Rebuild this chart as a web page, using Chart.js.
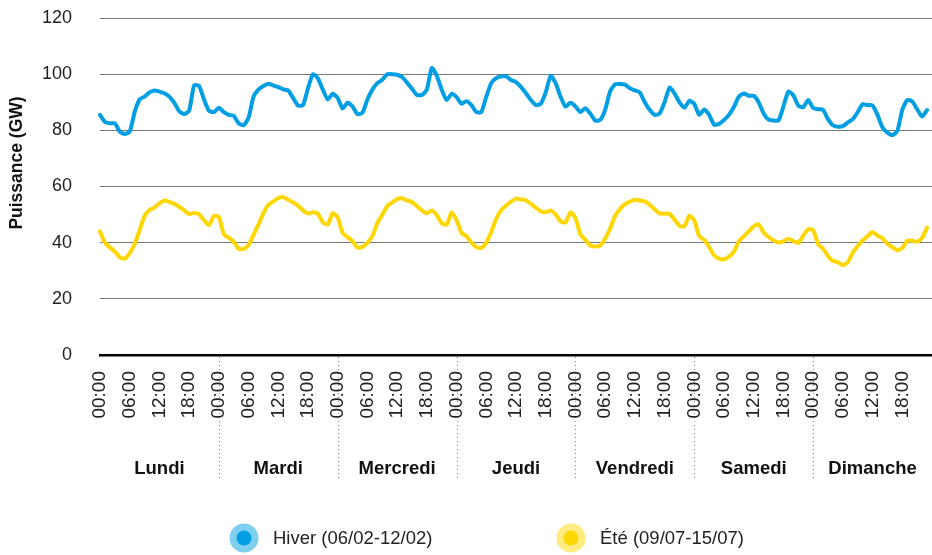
<!DOCTYPE html>
<html><head><meta charset="utf-8">
<script src="https://cdn.jsdelivr.net/npm/chart.js@4.4.1/dist/chart.umd.min.js"></script>
<style>html,body{margin:0;padding:0;background:#fff}#wrap{width:932px;height:555px;position:relative}</style>
</head><body><div id="wrap"><canvas id="c"></canvas></div>
<script>
const days = ['Lundi','Mardi','Mercredi','Jeudi','Vendredi','Samedi','Dimanche'];
const tickHours = ['00:00','06:00','12:00','18:00'];
const yTicks = [0,20,40,60,80,100,120];
const yTitle = 'Puissance (GW)';
const seriesNames = ['Hiver (06/02-12/02)','Été (09/07-15/07)'];
const seriesColors = ['#009FE3','#FFD700'];
const haloColors = ['#7FCFF1','#FFEB7F'];

// hourly values, Monday 00:00 -> Sunday 23:00 (GW)
const winter = [
85.5,83,82.5,82.5,79.5,78.7,79.5,86.5,91,92,93.5,94.2,93.8,93.2,92,89.8,86.8,85.8,87,96,95.8,91,87,86.5,
88,86.5,85.5,85.2,82.5,81.8,84.5,92,94.5,95.8,96.6,96,95.4,94.6,94.2,91.5,88.8,89,95,100,98.5,94.5,91,93,
91.5,87.8,89.8,88.5,85.8,86.3,91,94.5,96.8,98,100,100,99.8,99,97,94.8,92.6,92.6,94.5,102.2,99.5,94.5,90.8,93,
91.8,89.5,90.4,89,86.5,86.5,92,96.8,98.6,99.2,99.2,97.9,97.2,95.5,93.2,90.8,89,89.5,93.5,99.4,96.8,92,88.5,89.8,
88.5,86.5,87.9,86,83.5,83.7,87.3,93.8,96.4,96.5,96.3,95,94.2,93.5,90,87.3,85.5,86,90,95.2,93.2,90,88,90.5,
89.4,85.5,87.4,85.5,82,82.3,83.7,85.5,88.3,92,93.1,92.3,92.3,90,86,83.8,83.5,83.5,88.5,93.8,92.5,88.8,88.2,90.8,
88,87.5,87.3,84,81.8,81.3,81.5,82.8,84,86.5,89.3,89,88.8,85.5,81,79.2,78.3,79.8,87.3,90.8,90.3,87.5,84.9,87.2
];
const summer = [
44,40,38.3,36.8,34.8,34.3,36.3,39.5,44.5,49.5,51.6,52.5,54,55,54.5,53.8,52.8,51.5,50.2,50.6,50.2,48,46.2,49.5,
49.2,43,41.8,40.3,37.8,37.8,39.2,42.8,46.5,50.5,53.5,54.7,55.9,56.2,55.3,54.3,53.2,51.5,50.4,50.8,50.3,47.2,46.5,50.5,
49,43.4,42,40.5,38.2,38.5,40,42.3,47,49.9,53,54.3,55.5,55.8,55,54.5,53,51.5,50.5,51.5,49.8,47,46.4,50.8,
48,43.5,42.3,40,38.4,38.1,40,43.8,48.5,51.5,53.2,54.6,55.7,55.4,55.1,53.8,52.5,51.2,50.8,51.5,50,47.6,47.2,50.8,
48.8,43,41,39,38.6,39,41.5,45,49.5,52,53.7,54.6,55.3,55,54.7,53.5,51.8,50.4,50.3,50.3,48.2,46,45.8,49.6,
47.9,42.3,41,38.5,35.5,34.3,34.1,35,36.8,40.5,42.2,44,45.8,46.5,43.6,42,40.8,40.1,40.5,41.4,40.6,39.9,42.5,44.8,
44.5,39.5,37.8,35.2,33.5,33,32,33,36.5,38.8,40.8,42.3,43.8,42.5,41.6,39.6,38.4,37.3,38.1,40.7,40.7,40.3,41.7,45.4
];

const labels = [];
for (let d = 0; d <= days.length; d++) {
  for (let h = 0; h < 24; h++) {
    if (d === days.length && h > 0) break;
    labels.push(String(h).padStart(2, '0') + ':00');
  }
}

const FONT = '"Liberation Sans", Arial, Helvetica, sans-serif';

const decor = {
  id: 'decor',
  beforeDraw(chart) {
    const {ctx, chartArea, scales: {x}} = chart;
    ctx.save();
    ctx.strokeStyle = '#8a8a8a';
    ctx.lineWidth = 1;
    ctx.setLineDash([1, 3]);
    for (let d = 1; d < days.length; d++) {
      const px = Math.round(x.getPixelForValue(d * 24)) + 0.5;
      ctx.beginPath();
      ctx.moveTo(px, chartArea.bottom + 2);
      ctx.lineTo(px, x.bottom);
      ctx.stroke();
    }
    ctx.restore();
  },
  afterDraw(chart) {
    const {ctx, chartArea, scales: {x}} = chart;
    ctx.save();
    // day labels
    ctx.fillStyle = '#111';
    ctx.font = 'bold 18.5px ' + FONT;
    ctx.textAlign = 'center';
    ctx.textBaseline = 'middle';
    days.forEach((d, i) => {
      ctx.fillText(d, x.getPixelForValue(i * 24 + 12), chartArea.bottom + 114);
    });
    // y title
    ctx.save();
    ctx.translate(17, 163);
    ctx.rotate(-Math.PI / 2);
    ctx.font = 'bold 17.5px ' + FONT;
    ctx.fillStyle = '#111';
    ctx.fillText(yTitle, 0, 0);
    ctx.restore();
    // legend
    const cy = 538;
    const cxs = [chart.width / 2 - 222, chart.width / 2 + 105];
    ctx.font = '18.5px ' + FONT;
    ctx.textAlign = 'left';
    ctx.textBaseline = 'middle';
    seriesNames.forEach((name, i) => {
      const cx = cxs[i];
      ctx.beginPath(); ctx.arc(cx, cy, 14.5, 0, Math.PI * 2); ctx.fillStyle = haloColors[i]; ctx.fill();
      ctx.beginPath(); ctx.arc(cx, cy, 7.5, 0, Math.PI * 2); ctx.fillStyle = seriesColors[i]; ctx.fill();
      ctx.fillStyle = '#222';
      ctx.fillText(name, cx + 29, cy + 1);
    });
    ctx.restore();
  }
};

new Chart(document.getElementById('c'), {
  type: 'line',
  data: {
    labels,
    datasets: [
      {label: seriesNames[0], data: winter, borderColor: seriesColors[0], backgroundColor: seriesColors[0]},
      {label: seriesNames[1], data: summer, borderColor: seriesColors[1], backgroundColor: seriesColors[1]}
    ]
  },
  options: {
    responsive: true,
    maintainAspectRatio: false,
    animation: false,
    layout: {padding: {top: 18, right: 0, bottom: 75, left: 0}},
    plugins: {legend: {display: false}, tooltip: {enabled: false}},
    elements: {
      point: {radius: 0},
      line: {borderWidth: 4, tension: 0.2, borderJoinStyle: 'round', borderCapStyle: 'round'}
    },
    scales: {
      x: {
        type: 'category',
        offset: false,
        grid: {display: false, drawTicks: false},
        border: {display: true, color: '#000', width: 2.5},
        ticks: {
          autoSkip: false, maxRotation: 90, minRotation: 90, padding: 16,
          color: '#222', font: {family: FONT, size: 19},
          callback: (v, i) => (i < labels.length - 1 && tickHours.includes(labels[i])) ? labels[i] : ''
        },
        afterFit: s => { s.height = 125; s.paddingLeft = 0; s.paddingRight = 0; }
      },
      y: {
        min: 0, max: 120,
        afterBuildTicks: s => { s.ticks = yTicks.map(v => ({value: v})); },
        grid: {
          drawTicks: false,
          color: c => (c.tick && c.tick.value === 0) ? 'rgba(0,0,0,0)' : '#777',
          lineWidth: 1
        },
        border: {display: false},
        ticks: {padding: 28, color: '#222', font: {family: FONT, size: 18}},
        afterFit: s => { s.width = 100; s.paddingTop = 0; s.paddingBottom = 0; }
      }
    }
  },
  plugins: [decor]
});
</script>
</body></html>
